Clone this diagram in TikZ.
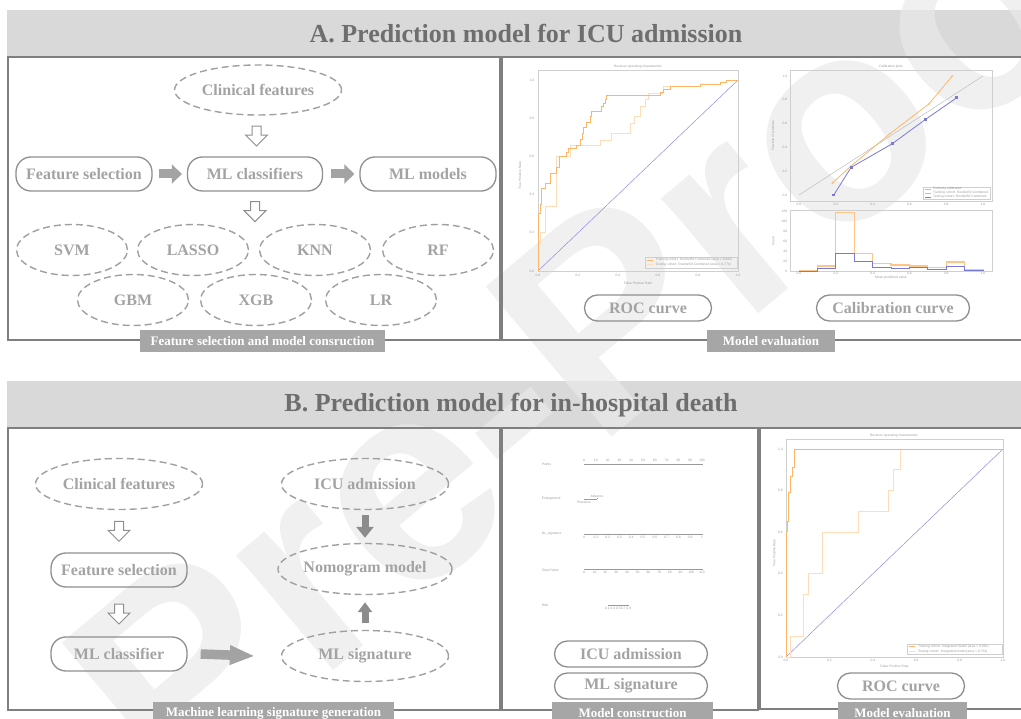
\documentclass[tikz,border=0pt]{standalone}
\usepackage{fontspec}
\setmainfont{Liberation Serif}
\newfontfamily\plotfont{Liberation Sans}
\newfontfamily\wmfont{Liberation Sans}
\usetikzlibrary{shapes.geometric,arrows.meta,calc}
\definecolor{band}{HTML}{D9D9D9}
\definecolor{titlec}{HTML}{6E6E6E}
\definecolor{panelc}{HTML}{7F7F7F}
\definecolor{nodetext}{HTML}{A3A3A3}
\definecolor{nodeedge}{HTML}{8F8F8F}
\definecolor{dashedge}{HTML}{A0A0A0}
\definecolor{footc}{HTML}{A6A6A6}
\definecolor{trainc}{HTML}{FFB568}
\definecolor{testc}{HTML}{FFDDB8}
\definecolor{diagc}{HTML}{8C8CE6}
\definecolor{calblue}{HTML}{7A7AD6}
\definecolor{framec}{HTML}{CFCFCF}
\definecolor{perfc}{HTML}{BDBDBD}
\definecolor{tickc}{HTML}{9A9A9A}
\definecolor{wmark}{HTML}{EAEAEA}
\definecolor{arrowc}{HTML}{A3A3A3}
\definecolor{darkarrow}{HTML}{8C8C8C}
\tikzset{
  titletext/.style={font=\fontsize{26}{30}\selectfont\bfseries, text=titlec},
  roundbox/.style={draw=nodeedge, line width=1.3pt, rounded corners=15pt, minimum height=34pt, inner sep=0pt, text=nodetext, font=\fontsize{16}{18}\selectfont\bfseries},
  dashell/.style={ellipse, draw=dashedge, dash pattern=on 7pt off 4pt, line width=1.4pt, inner sep=0pt, text=nodetext, font=\fontsize{16}{18}\selectfont\bfseries, minimum width=111pt, minimum height=51pt},
  wideell/.style={dashell, minimum width=167pt},
  footer/.style={fill=footc, text=white, font=\fontsize{13}{15}\selectfont\bfseries, inner sep=0pt},
  panel/.style={draw=panelc, line width=1.5pt},
  tinytext/.style={font=\plotfont\fontsize{3.3}{3.8}\selectfont, text=tickc, inner sep=0.6pt},
  plotframe/.style={draw=framec, line width=0.6pt},
  traincurve/.style={draw=trainc, line width=0.8pt},
  testcurve/.style={draw=testc, line width=0.8pt},
  diagline/.style={draw=diagc, line width=0.5pt},
  grayright/.style={draw=arrowc, line width=9pt, -{Triangle[length=10pt,width=19pt]}},
  longright/.style={draw=arrowc, line width=9.5pt, -{Triangle[length=25pt,width=18pt]}},
  darkvert/.style={draw=darkarrow, line width=7pt, -{Triangle[length=11pt,width=17pt]}},
  hollowdown/.pic={\draw[draw=nodeedge, line width=1pt, fill=white, line join=miter] (-4.5,-10) -- (4.5,-10) -- (4.5,-1) -- (11,-1) -- (0,10) -- (-11,-1) -- (-4.5,-1) -- cycle;},
}
\begin{document}
\begin{tikzpicture}[x=1pt,y=-1pt]
\useasboundingbox (0,0) rectangle (1021,719);
\begin{scope}
\clip (0,0) rectangle (1021,719);
% header bands
\fill[band] (7,10) rectangle (1030,57);
\fill[band] (7,381) rectangle (1030,428);
% watermark
\node[rotate=40, font=\wmfont\fontsize{285}{285}\selectfont\bfseries, text=wmark, opacity=0.7] (wm) at (605,310) {Pre-Proof};
% titles
\node[titletext] (ta) at (526,34) {A. Prediction model for ICU admission};
\node[titletext] (tb) at (511,405) {B. Prediction model for in-hospital death};
% panels
\draw[panel] (8,57) rectangle (500,340);
\draw[panel] (502,57) rectangle (1030,340);
\draw[panel] (8,428) rectangle (500,710);
\draw[panel] (502,428) rectangle (758,710);
\draw[panel] (760,428) rectangle (1030,709);

% ===== Panel A left =====
\node[wideell, minimum height=50pt] (acf) at (258,90) {Clinical features};
\node[roundbox, minimum width=136pt] (afs) at (84,174) {Feature selection};
\node[roundbox, minimum width=135pt] (amlc) at (255,174) {ML classifiers};
\node[roundbox, minimum width=136pt] (amlm) at (428,174) {ML models};
\node[dashell] (svm) at (72,250) {SVM};
\node[dashell] (lasso) at (193,250) {LASSO};
\node[dashell] (knn) at (315,250) {KNN};
\node[dashell] (rf) at (438,250) {RF};
\node[dashell] (gbm) at (133,300) {GBM};
\node[dashell] (xgb) at (256,300) {XGB};
\node[dashell] (lr) at (381,300) {LR};
\path ($(acf.south)!0.5!(amlc.north)$) pic {hollowdown};
\path ($(amlc.south)+(0,20)$) pic {hollowdown};
\draw[grayright] ($(afs.east)+(6,0)$) -- ($(amlc.west)+(-5,0)$);
\draw[grayright] ($(amlc.east)+(8,0)$) -- ($(amlm.west)+(-5,0)$);
\node[footer, minimum width=245pt, minimum height=22pt] (fa1) at (262.5,341) {Feature selection and model consruction};

% ===== Panel A right: ROC =====
\node[tinytext] (rocAt) at (638,67) {Receiver operating characteristic};
\begin{scope}[shift={(538,271)}, x=200pt, y=191pt]
  \draw[plotframe] (0,0) rectangle (1,1.05);
  \foreach \v/\l in {0/0.0,0.2/0.2,0.4/0.4,0.6/0.6,0.8/0.8,1/1.0}{
    \node[tinytext, anchor=east] at (-0.015,\v) {\l};
    \node[tinytext, anchor=north] at (\v,-0.01) {\l};
  }
  \node[tinytext, rotate=90] at (-0.09,0.5) {True Positive Rate};
  \node[tinytext] at (0.5,-0.065) {False Positive Rate};
  \draw[diagline] (0,0) -- (1,1);
  \draw[testcurve] (0,0) -- (0,0.145) -- (0.013,0.145) -- (0.013,0.2) -- (0.035,0.2) -- (0.035,0.337) -- (0.093,0.337) -- (0.093,0.6) -- (0.16,0.6) -- (0.16,0.66) -- (0.31,0.66) -- (0.31,0.686) -- (0.368,0.686) -- (0.368,0.72) -- (0.46,0.72) -- (0.46,0.773) -- (0.48,0.773) -- (0.48,0.81) -- (0.51,0.81) -- (0.51,0.86) -- (0.535,0.86) -- (0.535,0.9) -- (0.552,0.9) -- (0.552,0.93) -- (0.627,0.93) -- (0.627,0.965) -- (0.81,0.965) -- (0.81,0.975) -- (0.91,0.975) -- (0.91,0.99) -- (0.943,0.99) -- (0.943,1) -- (1,1);
  \draw[traincurve] (0,0) -- (0,0.30) -- (0.01,0.30) -- (0.01,0.35) -- (0.018,0.35) -- (0.018,0.43) -- (0.035,0.43) -- (0.035,0.46) -- (0.06,0.46) -- (0.06,0.51) -- (0.093,0.51) -- (0.093,0.54) -- (0.105,0.54) -- (0.105,0.60) -- (0.143,0.60) -- (0.143,0.62) -- (0.15,0.62) -- (0.15,0.64) -- (0.193,0.64) -- (0.193,0.66) -- (0.21,0.66) -- (0.21,0.69) -- (0.22,0.69) -- (0.22,0.72) -- (0.227,0.72) -- (0.227,0.75) -- (0.243,0.75) -- (0.243,0.78) -- (0.26,0.78) -- (0.26,0.81) -- (0.268,0.81) -- (0.268,0.835) -- (0.318,0.835) -- (0.318,0.86) -- (0.327,0.86) -- (0.327,0.88) -- (0.335,0.88) -- (0.335,0.90) -- (0.343,0.90) -- (0.343,0.92) -- (0.61,0.92) -- (0.61,0.935) -- (0.627,0.935) -- (0.627,0.95) -- (0.66,0.95) -- (0.66,0.965) -- (0.81,0.965) -- (0.81,0.975) -- (0.91,0.975) -- (0.91,0.99) -- (0.943,0.99) -- (0.943,1) -- (1,1);
  \draw[framec, line width=0.3pt] (0.535,0.015) rectangle (0.995,0.075);
  \draw[traincurve] (0.545,0.058) -- (0.575,0.058);
  \draw[testcurve] (0.545,0.033) -- (0.575,0.033);
  \node[tinytext, anchor=west] at (0.585,0.058) {Training cohort: ResNet50 Combined (area = 0.842)};
  \node[tinytext, anchor=west] at (0.585,0.033) {Testing cohort: ResNet50 Combined (area = 0.774)};
\end{scope}
% ===== Calibration =====
\node[tinytext] (calt) at (891,67) {Calibration plots};
\begin{scope}[shift={(799,195)}, x=184pt, y=119pt]
  \draw[plotframe] (-0.05,-0.05) rectangle (1.05,1.05);
  \foreach \v/\l in {0/0.0,0.2/0.2,0.4/0.4,0.6/0.6,0.8/0.8,1/1.0}{
    \node[tinytext, anchor=east] at (-0.06,\v) {\l};
    \node[tinytext, anchor=north] at (\v,-0.06) {\l};
  }
  \node[tinytext, rotate=90] at (-0.14,0.5) {Fraction of positives};
  \draw[perfc, line width=0.5pt] (0,0) -- (1,1);
  \draw[trainc, line width=0.8pt] (0.181,0.10) -- (0.28,0.24) -- (0.494,0.515) -- (0.706,0.765) -- (0.833,1.0);
  \foreach \p in {(0.181,0.10),(0.28,0.24),(0.494,0.515),(0.706,0.765),(0.833,1.0)} \fill[trainc] \p circle (0.006);
  \draw[calblue, line width=0.8pt] (0.189,0.0) -- (0.283,0.232) -- (0.506,0.43) -- (0.688,0.636) -- (0.858,0.818);
  \foreach \p in {(0.189,0.0),(0.283,0.232),(0.506,0.43),(0.688,0.636),(0.858,0.818)} \fill[calblue] \p ++(-0.008,-0.012) rectangle ++(0.016,0.024);
  \draw[framec, line width=0.3pt] (0.675,-0.035) rectangle (1.04,0.07);
  \draw[perfc, line width=0.5pt] (0.685,0.05) -- (0.715,0.05);
  \draw[trainc, line width=0.6pt] (0.685,0.016) -- (0.715,0.016);
  \draw[calblue, line width=0.6pt] (0.685,-0.018) -- (0.715,-0.018);
  \node[tinytext, anchor=west] at (0.725,0.05) {Perfectly calibrated};
  \node[tinytext, anchor=west] at (0.725,0.016) {Training cohort: ResNet50 Combined};
  \node[tinytext, anchor=west] at (0.725,-0.018) {Testing cohort: ResNet50 Combined};
\end{scope}
\begin{scope}[shift={(799,271)}, x=184pt, y=0.5pt]
  \draw[plotframe] (-0.05,0) rectangle (1.05,122);
  \foreach \c in {0,20,40,60,80,100,120} \node[tinytext, anchor=east] at (-0.06,\c) {\c};
  \foreach \v/\l in {0/0.0,0.2/0.2,0.4/0.4,0.6/0.6,0.8/0.8,1/1.0} \node[tinytext, anchor=north] at (\v,-1) {\l};
  \node[tinytext, rotate=90] at (-0.14,60) {Count};
  \node[tinytext] at (0.5,-14) {Mean predicted value};
  \draw[trainc!80, line width=1.2pt] (0,0) -- (0.1,0) -- (0.1,10) -- (0.2,10) -- (0.2,117) -- (0.3,117) -- (0.3,35) -- (0.4,35) -- (0.4,15) -- (0.5,15) -- (0.5,12) -- (0.6,12) -- (0.6,10) -- (0.7,10) -- (0.7,7) -- (0.8,7) -- (0.8,18) -- (0.9,18) -- (0.9,2) -- (1,2) -- (1,0);
  \draw[calblue, line width=0.9pt] (0,0) -- (0.1,0) -- (0.1,6) -- (0.2,6) -- (0.2,36) -- (0.3,36) -- (0.3,20) -- (0.4,20) -- (0.4,8) -- (0.5,8) -- (0.5,6) -- (0.6,6) -- (0.6,7) -- (0.7,7) -- (0.7,4) -- (0.8,4) -- (0.8,10) -- (0.9,10) -- (0.9,1) -- (1,1) -- (1,0);
\end{scope}
\node[roundbox, minimum width=127pt, minimum height=26pt, rounded corners=13pt] (rocA) at (648,308) {ROC curve};
\node[roundbox, minimum width=153pt, minimum height=26pt, rounded corners=13pt] (calA) at (893,308) {Calibration curve};
\node[footer, minimum width=128pt, minimum height=22pt] (fa2) at (771,341) {Model evaluation};

% ===== Panel B left =====
\node[wideell] (bcf) at (119,484) {Clinical features};
\node[roundbox, minimum width=136pt] (bfs) at (119,570) {Feature selection};
\node[roundbox, minimum width=136pt] (bmlc) at (119,654) {ML classifier};
\node[wideell] (bicu) at (365,484) {ICU admission};
\node[wideell] (bnom) at (365,569) {Nomogram model};
\node[wideell] (bsig) at (365,656) {ML signature};
\path ($(bcf.south)!0.5!(bfs.north)$) pic {hollowdown};
\path ($(bfs.south)!0.5!(bmlc.north)+(0,2)$) pic {hollowdown};
\draw[longright] ($(bmlc.east)+(13,0)$) -- ($(bsig.west)+(-26,0)$);
\draw[darkvert] ($(bicu.south)+(0,5)$) -- ($(bnom.north)+(0,-5)$);
\draw[darkvert, -{Triangle[length=10pt,width=14pt]}] ($(bsig.north)+(0,-7)$) -- ($(bnom.south)+(0,7)$);
\node[footer, minimum width=241pt, minimum height=23pt] (fb1) at (273.5,713.5) {Machine learning signature generation};

% ===== Panel B middle: nomogram =====
\node[tinytext, anchor=west] (npts) at (541,464) {Points};
\draw[tickc, line width=0.4pt] (584,464) -- (702,464);
\foreach \i in {0,...,50} \draw[tickc, line width=0.3pt] ({584+\i*2.36},464) -- ++(0,1.3);
\foreach \i in {0,...,10} \node[tinytext, anchor=south] at ({584+\i*11.8},462.5) {\pgfmathparse{int(\i*10)}\pgfmathresult};
\node[tinytext, anchor=west] (nenl) at (541,499) {Enlargement};
\draw[tickc, line width=0.4pt] (584,499) -- (597,499);
\draw[tickc, line width=0.3pt] (584,499) -- ++(0,1.2) (597,499) -- ++(0,-1.2);
\node[tinytext] at (597,496) {Absence};
\node[tinytext] at (584,502.5) {Presence};
\node[tinytext, anchor=west] (ndl) at (541,534) {DL\_signature};
\draw[tickc, line width=0.4pt] (584,534) -- (702,534);
\foreach \i/\l in {0/0,1/0.1,2/0.2,3/0.3,4/0.4,5/0.5,6/0.6,7/0.7,8/0.8,9/0.9,10/1} {
  \draw[tickc, line width=0.3pt] ({584+\i*11.8},534) -- ++(0,1.3);
  \node[tinytext, anchor=north] at ({584+\i*11.8},535.5) {\l};
}
\node[tinytext, anchor=west] (ntot) at (541,570) {Total Points};
\draw[tickc, line width=0.4pt] (584,569) -- (702,569);
\foreach \i in {0,...,55} \draw[tickc, line width=0.3pt] ({584+\i*2.145},569) -- ++(0,1);
\foreach \i in {0,...,11} \node[tinytext, anchor=north] at ({584+\i*10.727},570.5) {\pgfmathparse{int(\i*10)}\pgfmathresult};
\node[tinytext, anchor=west] (nrisk) at (541,605) {Risk};
\draw[tickc, line width=0.4pt] (608,605) -- (628,605);
\foreach \i in {0,...,10} \draw[tickc, line width=0.3pt] ({608+\i*2},605) -- ++(0,1);
\node[tinytext, anchor=north] at (618,606.5) {0.1 0.3 0.50.7 0.9};
\node[roundbox, minimum width=153pt, minimum height=26pt, rounded corners=13pt] (bicu2) at (631,654) {ICU admission};
\node[roundbox, minimum width=153pt, minimum height=26pt, rounded corners=13pt] (bsig2) at (631,686) {ML signature};
\node[footer, minimum width=161pt, minimum height=23pt] (fb2) at (632.5,713.5) {Model construction};

% ===== Panel B right: ROC =====
\node[tinytext] (rocBt) at (894,436) {Receiver operating characteristic};
\begin{scope}[shift={(786,657)}, x=217pt, y=208pt]
  \draw[plotframe] (0,0) rectangle (1,1.048);
  \foreach \v/\l in {0/0.0,0.2/0.2,0.4/0.4,0.6/0.6,0.8/0.8,1/1.0}{
    \node[tinytext, anchor=east] at (-0.012,\v) {\l};
    \node[tinytext, anchor=north] at (\v,-0.008) {\l};
  }
  \node[tinytext, rotate=90] at (-0.055,0.5) {True Positive Rate};
  \node[tinytext] at (0.5,-0.045) {False Positive Rate};
  \draw[diagline] (0,0) -- (1,1);
  \draw[testcurve] (0,0) -- (0.02,0) -- (0.02,0.1) -- (0.081,0.1) -- (0.081,0.3) -- (0.104,0.3) -- (0.104,0.4) -- (0.17,0.4) -- (0.17,0.6) -- (0.335,0.6) -- (0.335,0.7) -- (0.473,0.7) -- (0.473,0.8) -- (0.496,0.8) -- (0.496,0.9) -- (0.527,0.9) -- (0.527,1) -- (1,1);
  \draw[traincurve] (0,0) -- (0,0.603) -- (0.005,0.603) -- (0.005,0.65) -- (0.012,0.65) -- (0.012,0.79) -- (0.02,0.79) -- (0.02,0.87) -- (0.028,0.87) -- (0.028,0.91) -- (0.038,0.91) -- (0.038,1) -- (1,1);
  \draw[framec, line width=0.3pt] (0.56,0.012) rectangle (0.995,0.06);
  \draw[traincurve] (0.565,0.05) -- (0.595,0.05);
  \draw[testcurve] (0.565,0.026) -- (0.595,0.026);
  \node[tinytext, anchor=west] at (0.605,0.05) {Training cohort: Integrated model (area = 0.992)};
  \node[tinytext, anchor=west] at (0.605,0.026) {Testing cohort: Integrated model (area = 0.754)};
\end{scope}
\node[roundbox, minimum width=127pt, minimum height=26pt, rounded corners=13pt] (rocB) at (901,686) {ROC curve};
\node[footer, minimum width=129pt, minimum height=23pt] (fb3) at (902.5,713.5) {Model evaluation};
\end{scope}
\end{tikzpicture}
\end{document}
